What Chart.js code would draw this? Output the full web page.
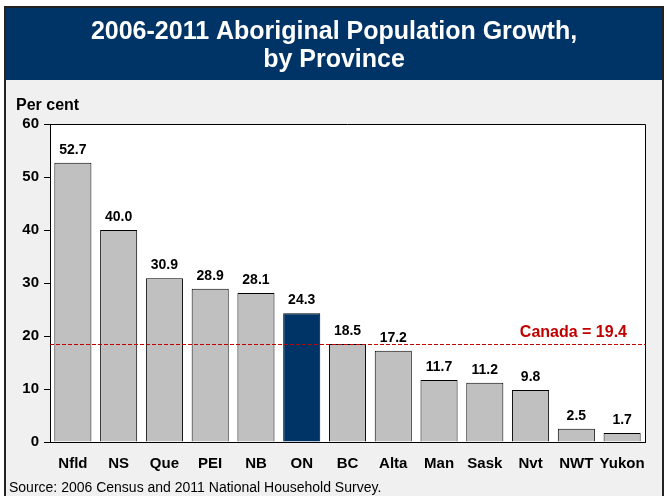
<!DOCTYPE html>
<html>
<head>
<meta charset="utf-8">
<script src="https://cdn.jsdelivr.net/npm/chart.js@4"></script>
<style>
  body { margin: 0; background: #fff; }
  canvas { display: block; }
</style>
</head>
<body>
<canvas id="chart" width="667" height="496"></canvas>
<script>
const categories = ['Nfld', 'NS', 'Que', 'PEI', 'NB', 'ON', 'BC', 'Alta', 'Man', 'Sask', 'Nvt', 'NWT', 'Yukon'];
const growth = [52.7, 40.0, 30.9, 28.9, 28.1, 24.3, 18.5, 17.2, 11.7, 11.2, 9.8, 2.5, 1.7];
const highlight = 'ON';
const canadaLabel = 'Canada = 19.4';
const canadaLineAt = 18.5; // where the dashed line sits in the picture
const titleLines = ['2006-2011 Aboriginal Population Growth,', 'by Province'];
const yTitle = 'Per cent';
const source = 'Source: 2006 Census and 2011 National Household Survey.';

const NAVY = '#003366';
const RED = '#c00000';
const FONT = 'Arial, "Liberation Sans", sans-serif';

const framePlugin = {
  id: 'frame',
  beforeDraw(chart) {
    const ctx = chart.ctx;
    const a = chart.chartArea;
    ctx.save();
    ctx.fillStyle = '#fff';
    ctx.fillRect(0, 0, chart.width, chart.height);
    ctx.fillStyle = '#f0f0f0';
    ctx.fillRect(5, 80, 658, chart.height - 80);
    ctx.fillStyle = NAVY;
    ctx.fillRect(5, 7, 658, 73);
    ctx.strokeStyle = '#222';
    ctx.lineWidth = 2;
    ctx.beginPath();
    ctx.moveTo(5, chart.height + 2);
    ctx.lineTo(5, 7);
    ctx.lineTo(663, 7);
    ctx.lineTo(663, chart.height + 2);
    ctx.stroke();

    ctx.fillStyle = '#fff';
    ctx.font = 'bold 25px ' + FONT;
    ctx.textAlign = 'center';
    ctx.textBaseline = 'middle';
    ctx.fillText(titleLines[0], 334, 32);
    ctx.fillText(titleLines[1], 334, 60);

    // plot area
    ctx.fillStyle = '#fff';
    ctx.fillRect(a.left, a.top, a.right - a.left, a.bottom - a.top);
    ctx.strokeStyle = '#000';
    ctx.lineWidth = 1;
    ctx.beginPath();
    ctx.moveTo(a.left, a.top + 0.5);
    ctx.lineTo(a.right + 0.5, a.top + 0.5);
    ctx.lineTo(a.right + 0.5, a.bottom);
    ctx.stroke();

    ctx.fillStyle = '#000';
    ctx.textAlign = 'left';
    ctx.textBaseline = 'alphabetic';
    ctx.font = 'bold 16px ' + FONT;
    ctx.fillText(yTitle, 16, 110);
    ctx.font = '14px ' + FONT;
    ctx.fillText(source, 9, 492);
    ctx.restore();
  },
  afterDatasetsDraw(chart) {
    const ctx = chart.ctx;
    const a = chart.chartArea;
    const meta = chart.getDatasetMeta(0);
    ctx.save();
    ctx.fillStyle = '#000';
    ctx.font = 'bold 14px ' + FONT;
    ctx.textAlign = 'center';
    ctx.textBaseline = 'alphabetic';
    meta.data.forEach((bar, i) => {
      ctx.fillText(growth[i].toFixed(1), bar.x, bar.y - 9);
    });

    const y = Math.round(chart.scales.y.getPixelForValue(canadaLineAt)) + 0.5;
    ctx.strokeStyle = RED;
    ctx.lineWidth = 1;
    ctx.setLineDash([4, 2]);
    ctx.beginPath();
    ctx.moveTo(a.left, y);
    ctx.lineTo(a.right, y);
    ctx.stroke();
    ctx.setLineDash([]);
    ctx.fillStyle = RED;
    ctx.font = 'bold 16px ' + FONT;
    ctx.textAlign = 'right';
    ctx.fillText(canadaLabel, 627, y - 8);
    ctx.restore();
  }
};

new Chart(document.getElementById('chart'), {
  type: 'bar',
  data: {
    labels: categories,
    datasets: [{
      data: growth,
      backgroundColor: categories.map(c => c === highlight ? NAVY : '#c0c0c0'),
      borderColor: '#000',
      borderWidth: 1,
      barPercentage: 0.81,
      categoryPercentage: 1
    }]
  },
  options: {
    responsive: false,
    animation: false,
    layout: { padding: { top: 124, right: 22, left: 0, bottom: 0 } },
    plugins: { legend: { display: false }, tooltip: { enabled: false } },
    scales: {
      x: {
        grid: { display: false, drawTicks: false },
        border: { display: true, color: '#000', width: 1 },
        ticks: { color: '#000', font: { family: FONT, size: 15, weight: 'bold' }, padding: 13, maxRotation: 0, autoSkip: false },
        afterFit(s) { s.height = 54; }
      },
      y: {
        min: 0,
        max: 60,
        ticks: { stepSize: 10, color: '#000', font: { family: FONT, size: 15, weight: 'bold' }, padding: 5 },
        grid: { drawOnChartArea: false, drawTicks: true, tickLength: 6, color: '#000' },
        border: { display: true, color: '#000', width: 1 },
        afterFit(s) { s.width = 50; }
      }
    }
  },
  plugins: [framePlugin]
});
</script>
</body>
</html>
